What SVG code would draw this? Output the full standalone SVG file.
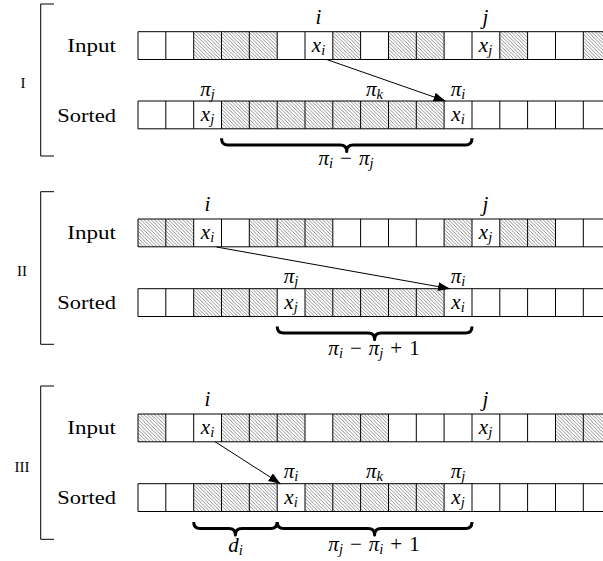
<svg xmlns="http://www.w3.org/2000/svg" xmlns:xlink="http://www.w3.org/1999/xlink" width="603" height="561" viewBox="0 0 603 561">
<style>
.lbl{font-family:"Liberation Serif","Times New Roman",serif;font-size:18.5px;fill:#000}
.num{font-family:"Liberation Serif","Times New Roman",serif;font-size:15px;fill:#000}
.m{font-family:"Liberation Serif","Times New Roman",serif;font-style:italic;font-size:21px;fill:#000}
.sub{font-size:14.5px}
.up{font-style:normal}
.h{fill:url(#hatch)}
.grid{fill:none;stroke:#000;stroke-width:1}
.brk{fill:none;stroke:#000;stroke-width:1}
.arr{fill:none;stroke:#000;stroke-width:1;marker-end:url(#ah)}
.brace{fill:none;stroke:#000;stroke-width:3;stroke-linejoin:round}
</style>
<defs>
<pattern id="hatch" patternUnits="userSpaceOnUse" width="3.5" height="3.5">
<path d="M-1,-1 L4.5,4.5 M-1,2.5 L1,4.5 M2.5,-1 L4.5,1" stroke="#6a6a6a" stroke-width="0.75"/>
</pattern>
<marker id="ah" markerWidth="13" markerHeight="10" refX="12" refY="4.5" orient="auto" markerUnits="userSpaceOnUse">
<path d="M0,0 L12,4.5 L0,9 z" fill="#000"/>
</marker>
<path id="gridpath" class="grid" d="M138,0 H603 M138,27.8 H603 M138,0 V27.8 M165.8,0 V27.8 M193.7,0 V27.8 M221.5,0 V27.8 M249.3,0 V27.8 M277.2,0 V27.8 M305,0 V27.8 M332.8,0 V27.8 M360.6,0 V27.8 M388.5,0 V27.8 M416.3,0 V27.8 M444.1,0 V27.8 M472,0 V27.8 M499.8,0 V27.8 M527.6,0 V27.8 M555.5,0 V27.8 M583.3,0 V27.8"/>
</defs>
<rect width="603" height="561" fill="#fff"/>

<!-- Section I -->
<g id="section-I">
<path class="brk" d="M54,4 H40.7 V156 H54"/>
<text class="num" x="23" y="88" text-anchor="middle">I</text>
</g>
<g id="row-I-input" transform="translate(0,31.7)">
<text class="lbl" x="67.3" y="20.3" textLength="48.7" lengthAdjust="spacingAndGlyphs">Input</text>
<rect class="h" x="193.7" y="0" width="27.8" height="27.8"/>
<rect class="h" x="221.5" y="0" width="27.8" height="27.8"/>
<rect class="h" x="249.3" y="0" width="27.9" height="27.8"/>
<rect class="h" x="332.8" y="0" width="27.8" height="27.8"/>
<rect class="h" x="388.5" y="0" width="27.8" height="27.8"/>
<rect class="h" x="416.3" y="0" width="27.8" height="27.8"/>
<rect class="h" x="499.8" y="0" width="27.8" height="27.8"/>
<rect class="h" x="583.3" y="0" width="20" height="27.8"/>
<use xlink:href="#gridpath"/>
<text class="m" x="318.5" y="-8" text-anchor="middle">i</text>
<text class="m" x="485.5" y="-8" text-anchor="middle">j</text>
<text class="m" x="318.5" y="20" text-anchor="middle">x<tspan class="sub" dy="3">i</tspan></text>
<text class="m" x="485.5" y="20" text-anchor="middle">x<tspan class="sub" dy="3">j</tspan></text>
</g>
<g id="row-I-sorted" transform="translate(0,101)">
<text class="lbl" x="57.3" y="20.8" textLength="58.7" lengthAdjust="spacingAndGlyphs">Sorted</text>
<rect class="h" x="221.5" y="0" width="222.6" height="27.8"/>
<use xlink:href="#gridpath"/>
<text class="m" x="207.5" y="-5.5" text-anchor="middle">π<tspan class="sub" dy="3">j</tspan></text>
<text class="m" x="374.5" y="-5.5" text-anchor="middle">π<tspan class="sub" dy="3">k</tspan></text>
<text class="m" x="458" y="-5.5" text-anchor="middle">π<tspan class="sub" dy="3">i</tspan></text>
<text class="m" x="207.5" y="20" text-anchor="middle">x<tspan class="sub" dy="3">j</tspan></text>
<text class="m" x="458" y="20" text-anchor="middle">x<tspan class="sub" dy="3">i</tspan></text>
<text class="m" x="346" y="64" text-anchor="middle">π<tspan class="sub" dy="3">i</tspan><tspan class="up" dx="7" dy="-3">−</tspan><tspan dx="7">π</tspan><tspan class="sub" dy="3">j</tspan></text>
</g>

<!-- Section II -->
<g id="section-II">
<path class="brk" d="M54,191.7 H40.7 V344.3 H54"/>
<text class="num" x="22" y="275.5" text-anchor="middle">II</text>
</g>
<g id="row-II-input" transform="translate(0,219)">
<text class="lbl" x="67.3" y="20.3" textLength="48.7" lengthAdjust="spacingAndGlyphs">Input</text>
<rect class="h" x="138" y="0" width="27.8" height="27.8"/>
<rect class="h" x="165.8" y="0" width="27.9" height="27.8"/>
<rect class="h" x="249.3" y="0" width="83.5" height="27.8"/>
<rect class="h" x="444.1" y="0" width="27.9" height="27.8"/>
<rect class="h" x="499.8" y="0" width="55.7" height="27.8"/>
<use xlink:href="#gridpath"/>
<text class="m" x="207.5" y="-8" text-anchor="middle">i</text>
<text class="m" x="485.5" y="-8" text-anchor="middle">j</text>
<text class="m" x="207.5" y="20" text-anchor="middle">x<tspan class="sub" dy="3">i</tspan></text>
<text class="m" x="485.5" y="20" text-anchor="middle">x<tspan class="sub" dy="3">j</tspan></text>
</g>
<g id="row-II-sorted" transform="translate(0,288.7)">
<text class="lbl" x="57.3" y="20.8" textLength="58.7" lengthAdjust="spacingAndGlyphs">Sorted</text>
<rect class="h" x="193.7" y="0" width="83.5" height="27.8"/>
<rect class="h" x="305" y="0" width="139.1" height="27.8"/>
<use xlink:href="#gridpath"/>
<text class="m" x="291" y="-5.5" text-anchor="middle">π<tspan class="sub" dy="3">j</tspan></text>
<text class="m" x="458" y="-5.5" text-anchor="middle">π<tspan class="sub" dy="3">i</tspan></text>
<text class="m" x="291" y="20" text-anchor="middle">x<tspan class="sub" dy="3">j</tspan></text>
<text class="m" x="458" y="20" text-anchor="middle">x<tspan class="sub" dy="3">i</tspan></text>
<text class="m" x="374" y="66.5" text-anchor="middle">π<tspan class="sub" dy="3">i</tspan><tspan class="up" dx="7" dy="-3">−</tspan><tspan dx="7">π</tspan><tspan class="sub" dy="3">j</tspan><tspan class="up" dx="7" dy="-3">+</tspan><tspan class="up" dx="7">1</tspan></text>
</g>

<!-- Section III -->
<g id="section-III">
<path class="brk" d="M54,386 H40.7 V539.3 H54"/>
<text class="num" x="22" y="471.5" text-anchor="middle">III</text>
</g>
<g id="row-III-input" transform="translate(0,414)">
<text class="lbl" x="67.3" y="20.3" textLength="48.7" lengthAdjust="spacingAndGlyphs">Input</text>
<rect class="h" x="138" y="0" width="27.8" height="27.8"/>
<rect class="h" x="221.5" y="0" width="83.5" height="27.8"/>
<rect class="h" x="332.8" y="0" width="55.7" height="27.8"/>
<rect class="h" x="555.5" y="0" width="48" height="27.8"/>
<use xlink:href="#gridpath"/>
<text class="m" x="207.5" y="-8" text-anchor="middle">i</text>
<text class="m" x="485.5" y="-8" text-anchor="middle">j</text>
<text class="m" x="207.5" y="20" text-anchor="middle">x<tspan class="sub" dy="3">i</tspan></text>
<text class="m" x="485.5" y="20" text-anchor="middle">x<tspan class="sub" dy="3">j</tspan></text>
</g>
<g id="row-III-sorted" transform="translate(0,483.7)">
<text class="lbl" x="57.3" y="20.8" textLength="58.7" lengthAdjust="spacingAndGlyphs">Sorted</text>
<rect class="h" x="193.7" y="0" width="83.5" height="27.8"/>
<rect class="h" x="305" y="0" width="139.1" height="27.8"/>
<use xlink:href="#gridpath"/>
<text class="m" x="291" y="-5.5" text-anchor="middle">π<tspan class="sub" dy="3">i</tspan></text>
<text class="m" x="374.5" y="-5.5" text-anchor="middle">π<tspan class="sub" dy="3">k</tspan></text>
<text class="m" x="458" y="-5.5" text-anchor="middle">π<tspan class="sub" dy="3">j</tspan></text>
<text class="m" x="291" y="20" text-anchor="middle">x<tspan class="sub" dy="3">i</tspan></text>
<text class="m" x="458" y="20" text-anchor="middle">x<tspan class="sub" dy="3">j</tspan></text>
<text class="m" x="235.5" y="68" text-anchor="middle">d<tspan class="sub" dy="3">i</tspan></text>
<text class="m" x="374" y="67.5" text-anchor="middle">π<tspan class="sub" dy="3">j</tspan><tspan class="up" dx="7" dy="-3">−</tspan><tspan dx="7">π</tspan><tspan class="sub" dy="3">i</tspan><tspan class="up" dx="7" dy="-3">+</tspan><tspan class="up" dx="7">1</tspan></text>
</g>

<g id="connectors">
<path class="arr" d="M326.7,59.5 L445.5,101"/>
<path class="arr" d="M216.5,247 L450,288.7"/>
<path class="arr" d="M215,441.7 L280.5,483.7"/>
<path class="brace" d="M221.5,138.3 Q221.5,145 228,145 L340.2,145 Q346.7,145 346.7,151.5 Q346.7,145 353.2,145 L465.5,145 Q472,145 472,138.3"/>
<path class="brace" d="M277.2,326.5 Q277.2,333 283.7,333 L368.1,333 Q374.6,333 374.6,339.5 Q374.6,333 381.1,333 L465.5,333 Q472,333 472,326.5"/>
<path class="brace" d="M193.7,522 Q193.7,528.5 200.2,528.5 L228.9,528.5 Q235.4,528.5 235.4,535 Q235.4,528.5 241.9,528.5 L270.7,528.5 Q277.2,528.5 277.2,522"/>
<path class="brace" d="M277.2,522 Q277.2,528.5 283.7,528.5 L368.1,528.5 Q374.6,528.5 374.6,535 Q374.6,528.5 381.1,528.5 L465.5,528.5 Q472,528.5 472,522"/>
</g>
</svg>
